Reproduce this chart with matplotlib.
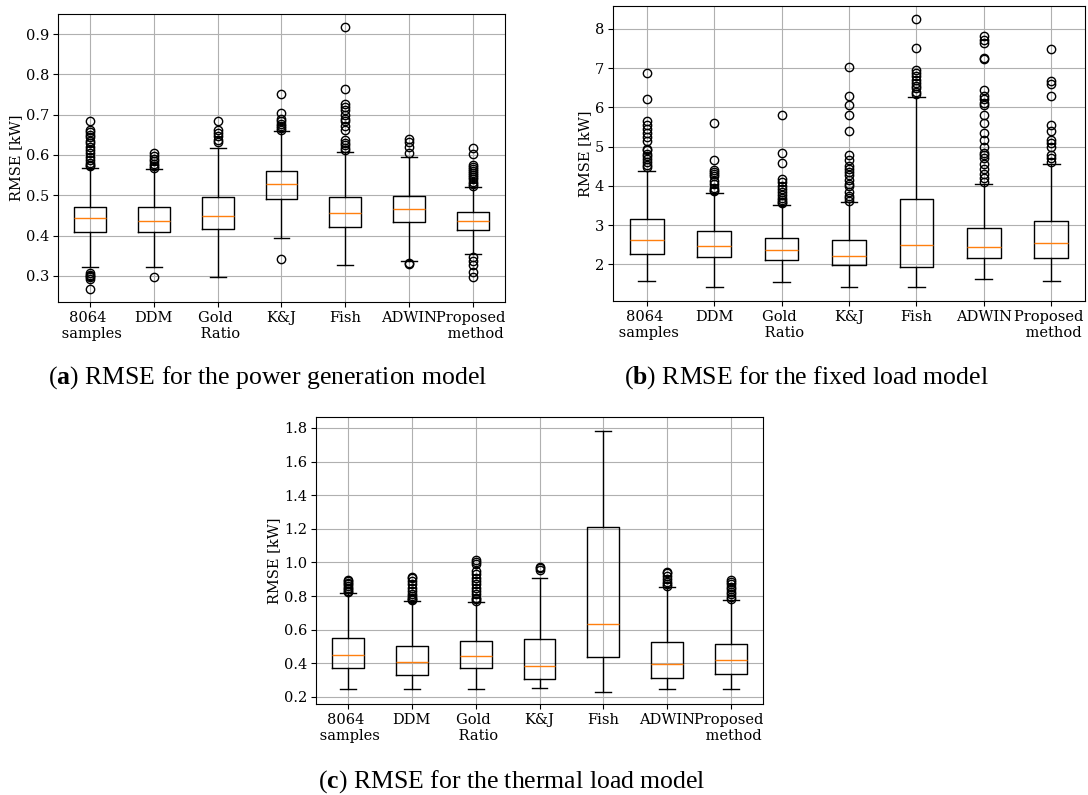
import matplotlib
matplotlib.use("Agg")
import matplotlib.pyplot as plt

categories = ["8064 \n samples", "DDM", "Gold \n Ratio", "K&J", "Fish", "ADWIN", "Proposed \n method"]

# ---------------- (a) power generation model ----------------
a_q1 = [0.408, 0.409, 0.415, 0.491, 0.422, 0.433, 0.4135]
a_med = [0.443, 0.436, 0.448, 0.527, 0.457, 0.467, 0.436]
a_q3 = [0.472, 0.472, 0.496, 0.559, 0.496, 0.499, 0.4575]
a_whislo = [0.322, 0.321, 0.296, 0.395, 0.326, 0.337, 0.353]
a_whishi = [0.567, 0.565, 0.617, 0.660, 0.608, 0.594, 0.520]
a_fliers = [
    [0.684, 0.662, 0.656, 0.650, 0.645, 0.635, 0.630, 0.620, 0.612, 0.605, 0.595,
     0.588, 0.580, 0.575, 0.572, 0.306, 0.303, 0.300, 0.296, 0.291, 0.267],
    [0.606, 0.598, 0.590, 0.584, 0.577, 0.572, 0.568, 0.296],
    [0.684, 0.662, 0.655, 0.648, 0.637, 0.632],
    [0.751, 0.705, 0.690, 0.684, 0.678, 0.672, 0.667, 0.663, 0.342],
    [0.917, 0.763, 0.726, 0.720, 0.712, 0.700, 0.690, 0.685, 0.672, 0.662, 0.637,
     0.630, 0.624, 0.617, 0.612],
    [0.640, 0.633, 0.621, 0.604, 0.332, 0.329],
    [0.618, 0.602, 0.576, 0.571, 0.566, 0.560, 0.555, 0.550, 0.545, 0.540, 0.533,
     0.527, 0.522, 0.347, 0.336, 0.327, 0.310, 0.296],
]
a_yticks = [0.3, 0.4, 0.5, 0.6, 0.7, 0.8, 0.9]
a_ylim = (0.235, 0.950)

# ---------------- (b) fixed load model ----------------
b_q1 = [2.254, 2.178, 2.102, 1.983, 1.932, 2.153, 2.153]
b_med = [2.619, 2.467, 2.365, 2.204, 2.484, 2.450, 2.543]
b_q3 = [3.146, 2.849, 2.662, 2.619, 3.663, 2.916, 3.112]
b_whislo = [1.584, 1.431, 1.559, 1.431, 1.423, 1.618, 1.576]
b_whishi = [4.385, 3.808, 3.502, 3.587, 6.260, 4.054, 4.546]
b_fliers = [
    [6.87, 6.22, 5.66, 5.55, 5.45, 5.35, 5.25, 5.15, 4.95, 4.90, 4.82, 4.75, 4.68,
     4.60, 4.52, 4.47],
    [5.61, 4.66, 4.40, 4.35, 4.30, 4.25, 4.12, 4.05, 3.95, 3.90, 3.87],
    [5.80, 4.83, 4.59, 4.18, 4.10, 4.00, 3.92, 3.85, 3.77, 3.70, 3.65, 3.60, 3.55],
    [7.02, 6.30, 6.07, 5.81, 5.40, 4.78, 4.65, 4.50, 4.42, 4.35, 4.28, 4.15, 4.05,
     4.00, 3.85, 3.75, 3.68, 3.62],
    [8.25, 7.51, 6.95, 6.88, 6.80, 6.70, 6.62, 6.55, 6.48, 6.40, 6.35],
    [7.81, 7.72, 7.63, 7.25, 7.23, 6.44, 6.30, 6.20, 6.12, 6.05, 5.80, 5.59, 5.34,
     5.17, 5.00, 4.83, 4.78, 4.70, 4.55, 4.43, 4.30, 4.20, 4.10],
    [7.48, 6.66, 6.60, 6.30, 5.55, 5.40, 5.17, 5.08, 5.00, 4.78, 4.70, 4.60],
]
b_yticks = [2, 3, 4, 5, 6, 7, 8]
b_ylim = (1.066, 8.58)

# ---------------- (c) thermal load model ----------------
c_q1 = [0.371, 0.329, 0.371, 0.309, 0.438, 0.313, 0.337]
c_med = [0.448, 0.408, 0.444, 0.384, 0.632, 0.394, 0.418]
c_q3 = [0.549, 0.505, 0.531, 0.547, 1.209, 0.529, 0.513]
c_whislo = [0.246, 0.246, 0.246, 0.252, 0.230, 0.250, 0.246]
c_whishi = [0.821, 0.771, 0.765, 0.906, 1.784, 0.854, 0.777]
c_fliers = [
    [0.898, 0.890, 0.880, 0.870, 0.860, 0.850, 0.840, 0.830, 0.825],
    [0.912, 0.905, 0.890, 0.870, 0.850, 0.830, 0.810, 0.800, 0.790, 0.780, 0.775],
    [1.015, 1.005, 0.990, 0.950, 0.930, 0.910, 0.890, 0.870, 0.850, 0.830, 0.810,
     0.790, 0.780, 0.770],
    [0.975, 0.965, 0.955],
    [],
    [0.945, 0.935, 0.920, 0.900, 0.885, 0.870, 0.860],
    [0.895, 0.885, 0.870, 0.855, 0.840, 0.825, 0.810, 0.795, 0.785],
]
c_yticks = [0.2, 0.4, 0.6, 0.8, 1.0, 1.2, 1.4, 1.6, 1.8]
c_ylim = (0.158, 1.865)

captions = ["RMSE for the power generation model",
            "RMSE for the fixed load model",
            "RMSE for the thermal load model"]
caption_letters = ["a", "b", "c"]

plt.rcParams['font.family'] = ['DejaVu Serif']
plt.rcParams['mathtext.fontset'] = 'custom'
plt.rcParams['mathtext.rm'] = 'Liberation Serif'
plt.rcParams['mathtext.bf'] = 'Liberation Serif:bold'

W, H = 1088, 795
fig = plt.figure(figsize=(W / 100, H / 100), dpi=100)


def px_axes(left, top, right, bottom):
    return fig.add_axes([left / W, 1 - bottom / H, (right - left) / W, (bottom - top) / H])


def make_stats(q1, med, q3, lo, hi, fl):
    stats = []
    for i in range(len(q1)):
        stats.append(dict(q1=q1[i], med=med[i], q3=q3[i], whislo=lo[i],
                          whishi=hi[i], fliers=fl[i], label=categories[i]))
    return stats


def draw(ax, stats, yticks, ylim, fmt):
    ax.bxp(stats, showfliers=True,
           medianprops=dict(color='#ff7f0e', linewidth=1.0),
           boxprops=dict(color='black', linewidth=1.0),
           whiskerprops=dict(color='black', linewidth=1.0),
           capprops=dict(color='black', linewidth=1.0),
           flierprops=dict(marker='o', markerfacecolor='none',
                           markeredgecolor='black', markersize=6))
    ax.set_yticks(yticks)
    ax.set_yticklabels([fmt.format(v) for v in yticks])
    ax.set_ylim(*ylim)
    ax.set_xlim(0.5, 7.5)
    ax.grid(True, color='#b0b0b0', linewidth=0.8)
    ax.set_axisbelow(True)
    ax.set_ylabel("RMSE [kW]", fontsize=10.5, labelpad=1.5)
    ax.tick_params(labelsize=10.5, pad=3)


ax_a = px_axes(58, 14, 505, 302)
draw(ax_a, make_stats(a_q1, a_med, a_q3, a_whislo, a_whishi, a_fliers),
     a_yticks, a_ylim, "{:.1f}")

ax_b = px_axes(613, 6, 1085, 301)
draw(ax_b, make_stats(b_q1, b_med, b_q3, b_whislo, b_whishi, b_fliers),
     b_yticks, b_ylim, "{:.0f}")

ax_c = px_axes(316, 417, 763, 704)
draw(ax_c, make_stats(c_q1, c_med, c_q3, c_whislo, c_whishi, c_fliers),
     c_yticks, c_ylim, "{:.1f}")

cap_pos = [(268, 378), (806, 378), (512, 782)]
for (x, y), letter, cap in zip(cap_pos, caption_letters, captions):
    fig.text(x / W, 1 - y / H, "($\\mathbf{" + letter + "}$) " + cap,
             ha='center', va='center', fontsize=18.5, family='Liberation Serif')

fig.savefig("out.png", dpi=100)
